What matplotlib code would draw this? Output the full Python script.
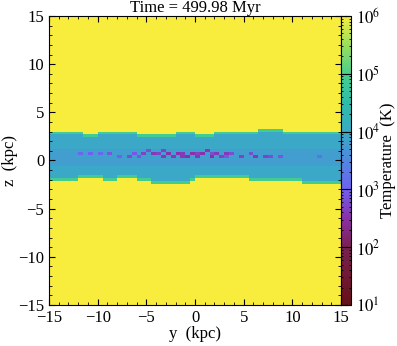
import numpy as np
import matplotlib
matplotlib.use('Agg')
import matplotlib.pyplot as plt
from matplotlib.colors import LinearSegmentedColormap, LogNorm
from matplotlib.ticker import AutoMinorLocator

plt.rcParams['font.family'] = ['Liberation Serif', 'DejaVu Serif']
plt.rcParams['mathtext.fontset'] = 'stix'

# Datos
titulo = 'Time = 499.98 Myr'
# limites del disco (kpc) en columnas de 0.5 kpc, y de -15 a 15
z_arriba = [3.0, 3.0, 3.0, 3.05, 3.05, 3.0, 3.0, 2.8, 2.8, 2.8,
            2.85, 3.0, 3.0, 3.0, 3.0, 2.95, 3.0, 3.0, 2.8, 2.8,
            2.8, 2.8, 2.8, 2.8, 2.8, 2.8, 2.85, 2.9, 2.9, 2.85,
            2.8, 2.8, 2.8, 2.8, 2.9, 3.0, 3.0, 3.0, 2.9, 2.85,
            2.85, 2.85, 3.1, 3.3, 3.3, 3.3, 3.3, 3.25, 3.1, 2.95,
            2.9, 2.9, 2.9, 2.9, 2.9, 2.9, 2.9, 2.9, 2.9, 2.9]
z_abajo = [-2.0, -2.0, -2.0, -2.0, -2.0, -2.0, -1.95, -1.9, -1.9, -1.9,
           -1.9, -2.0, -2.05, -2.05, -1.95, -1.9, -1.9, -1.95, -2.0, -2.05,
           -2.15, -2.3, -2.35, -2.35, -2.35, -2.3, -2.35, -2.35, -2.3, -2.2,
           -1.85, -1.8, -1.8, -1.8, -1.8, -1.85, -1.85, -1.85, -1.9, -1.9,
           -1.95, -2.0, -2.0, -2.0, -2.0, -2.0, -2.0, -2.0, -2.05, -2.1,
           -2.15, -2.2, -2.3, -2.3, -2.35, -2.35, -2.35, -2.35, -2.35, -2.35]
# grumos frios: y (kpc), z (kpc), log10 T
grumo_y = [-11.5, -10.5, -9.5, -8.5, -7.5, -6.5, -6.0, -5.0, -4.5, -4.0,
           -3.5, -3.0, -2.5, -2.0, -1.5, -1.0, -0.5, 0.0, 0.5, 1.0,
           1.5, 2.0, 2.5, 3.0, 3.5, 4.0, 5.0, 6.0, 6.5, 7.5, 8.0, 9.0, 13.0,
           -5.5, -3.0, -1.0, 0.5, 2.0, 3.5]
grumo_z = [0.6, 0.7, 0.6, 0.6, 0.5, 0.4, 0.6, 0.7, 0.9, 0.6,
           0.8, 0.5, 0.7, 0.4, 0.8, 0.6, 0.5, 0.7, 0.4, 0.6,
           0.9, 0.5, 0.7, 0.3, 0.6, 0.8, 0.4, 0.6, 0.3, 0.4, 0.4, 0.5, 0.4,
           0.4, 0.9, 0.3, 0.8, 0.8, 0.3]
grumo_logT = [3.1, 3.0, 3.1, 2.9, 3.0, 2.8, 2.9, 2.7, 2.8, 2.6,
              2.7, 2.6, 2.5, 2.6, 2.5, 2.6, 2.5, 2.5, 2.6, 2.5,
              2.6, 2.5, 2.6, 2.7, 2.6, 2.8, 2.7, 2.8, 2.6, 2.7, 2.8, 2.9, 3.2,
              2.9, 2.7, 2.6, 2.7, 2.8, 2.9]

logT_caliente = 6.0
logT_disco = 3.95
logT_centro = 3.82
logT_borde = 4.9

# Malla
y_bordes = np.linspace(-15, 15, 61)
z_bordes = np.linspace(-15, 15, 101)
y_c = 0.5 * (y_bordes[1:] + y_bordes[:-1])
z_c = 0.5 * (z_bordes[1:] + z_bordes[:-1])

logT = np.full((len(z_c), len(y_c)), logT_caliente)
for j in range(len(y_c)):
    dentro = (z_c <= z_arriba[j]) & (z_c >= z_abajo[j])
    logT[dentro, j] = logT_disco
    centro = (z_c > -0.5) & (z_c < 1.3)
    logT[centro, j] = logT_centro
    idx = np.where(dentro)[0]
    logT[idx[0], j] = logT_borde
    logT[idx[-1], j] = logT_borde

for y0, z0, t0 in zip(grumo_y, grumo_z, grumo_logT):
    j = np.argmin(np.abs(y_c - y0))
    i = np.argmin(np.abs(z_c - z0))
    logT[i, j] = t0

T = 10 ** logT

# Mapa de colores
colores = [(0.0, '#661018'), (0.2, '#7a2050'), (0.3, '#8a30a8'),
           (0.4, '#7060f0'), (0.5, '#5088e0'), (0.6, '#3aabc4'),
           (0.7, '#2ebcaa'), (0.8, '#48d08c'), (0.9, '#98e05c'),
           (1.0, '#f8ec3c')]
cmap = LinearSegmentedColormap.from_list('temp', colores, N=1024)

fig = plt.figure(figsize=(3.97, 3.46), dpi=100)
ax = fig.add_axes([0.1234, 0.1185, 0.7356, 0.8353])
cax = fig.add_axes([0.859, 0.1185, 0.0252, 0.8353])

m = ax.pcolormesh(y_bordes, z_bordes, T, cmap=cmap,
                  norm=LogNorm(vmin=1e1, vmax=1e6), shading='flat')
ax.set_xlim(-15, 15)
ax.set_ylim(-15, 15)
ax.set_xticks([-15, -10, -5, 0, 5, 10, 15])
ax.set_yticks([-15, -10, -5, 0, 5, 10, 15])
ax.xaxis.set_minor_locator(AutoMinorLocator(5))
ax.yaxis.set_minor_locator(AutoMinorLocator(5))
ax.tick_params(which='both', direction='in', top=True, right=True, labelsize=12)
ax.tick_params(which='major', length=4)
ax.tick_params(which='minor', length=2)
ax.set_xlabel('y  (kpc)', fontsize=12, labelpad=0)
ax.set_ylabel('z  (kpc)', fontsize=12, labelpad=0)
ax.set_title(titulo, fontsize=12, pad=2)

cb = fig.colorbar(m, cax=cax)
cb.set_ticks([1e1, 1e2, 1e3, 1e4, 1e5, 1e6])
cb.set_ticklabels([r'$10^{%d}$' % k for k in range(1, 7)])
cax.tick_params(which='both', direction='in', left=True, right=True, labelsize=12)
cax.tick_params(which='major', length=4)
cax.tick_params(which='minor', length=1.5, width=0.6)
cb.set_label('Temperature  (K)', fontsize=12, labelpad=0)
cb.outline.set_linewidth(0.8)

plt.savefig('out.png', dpi=100)
